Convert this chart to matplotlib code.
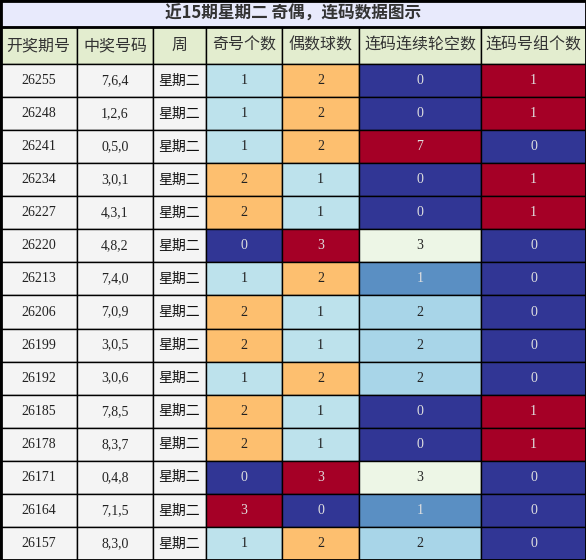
import matplotlib
matplotlib.use("Agg")
import matplotlib.pyplot as plt
from matplotlib.patches import Rectangle

title = "近15期星期二 奇偶，连码数据图示"
headers = ["开奖期号", "中奖号码", "周", "奇号个数", "偶数球数", "连码连续轮空数", "连码号组个数"]
periods = ["26255","26248","26241","26234","26227","26220","26213","26206","26199","26192","26185","26178","26171","26164","26157"]
numbers = ["7,6,4","1,2,6","0,5,0","3,0,1","4,3,1","4,8,2","7,4,0","7,0,9","3,0,5","3,0,6","7,8,5","8,3,7","0,4,8","7,1,5","8,3,0"]
weekday = ["星期二"]*15
odd = [1,1,1,2,2,0,1,2,2,1,2,2,0,3,1]
even = [2,2,2,1,1,3,2,1,1,2,1,1,3,0,2]
gap = [0,0,7,0,0,3,1,2,2,2,0,0,3,1,2]
groups = [1,1,0,1,1,0,0,0,0,0,1,1,0,0,0]

colx = [0,77,153,206,282,359,481,586]
W, H = 586, 560
title_h, head_h = 27, 37
row_h = (H - title_h - head_h) / 15

oe_col = {0: "#313695", 1: "#bde2ec", 2: "#fdbf6f", 3: "#a50026"}
oe_txt = {0: "#e0e0e0", 1: "#222222", 2: "#222222", 3: "#e0e0e0"}
gap_col = {0: "#313695", 1: "#5a8fc3", 2: "#a8d5e8", 3: "#edf6e6", 7: "#a50026"}
gap_txt = {0: "#e0e0e0", 1: "#e0e0e0", 2: "#222222", 3: "#222222", 7: "#e0e0e0"}
grp_col = {0: "#313695", 1: "#a50026"}

fig = plt.figure(figsize=(W/100, H/100), dpi=100)
ax = fig.add_axes([0, 0, 1, 1])
ax.set_xlim(0, W); ax.set_ylim(H, 0); ax.axis("off")
cjk = ["Noto Sans CJK SC", "DejaVu Sans"]
serif = ["Liberation Serif", "DejaVu Serif"]

def cell(x0, x1, y0, y1, fc, txt, tc, fam, fs=10.5, bold=False):
    ax.add_patch(Rectangle((x0, y0), x1-x0, y1-y0, facecolor=fc, edgecolor="black", lw=1))
    ax.text((x0+x1)/2, (y0+y1)/2, txt, ha="center", va="center", color=tc,
            family=fam, fontsize=fs, fontweight="bold" if bold else "normal")

cell(0, W, 0, title_h, "#e8eafc", title, "#333333", cjk, fs=12, bold=True)
for j, h in enumerate(headers):
    cell(colx[j], colx[j+1], title_h, title_h+head_h, "#e3edcf", h, "#333333", cjk, fs=11.5)
for i in range(15):
    y0 = title_h + head_h + i*row_h; y1 = y0 + row_h
    cell(colx[0], colx[1], y0, y1, "#f4f4f4", periods[i], "#222222", serif, 10)
    cell(colx[1], colx[2], y0, y1, "#f4f4f4", numbers[i], "#222222", serif, 10)
    cell(colx[2], colx[3], y0, y1, "#f4f4f4", weekday[i], "#111111", cjk, 10)
    cell(colx[3], colx[4], y0, y1, oe_col[odd[i]], str(odd[i]), oe_txt[odd[i]], serif, 10)
    cell(colx[4], colx[5], y0, y1, oe_col[even[i]], str(even[i]), oe_txt[even[i]], serif, 10)
    cell(colx[5], colx[6], y0, y1, gap_col[gap[i]], str(gap[i]), gap_txt[gap[i]], serif, 10)
    cell(colx[6], colx[7], y0, y1, grp_col[groups[i]], str(groups[i]), "#e0e0e0", serif, 10)
ax.add_patch(Rectangle((0.5, 0.5), W-1, H-1, fill=False, edgecolor="black", lw=2))
ax.plot([0, W], [title_h, title_h], color="black", lw=2)
fig.savefig("out.png", dpi=100)
